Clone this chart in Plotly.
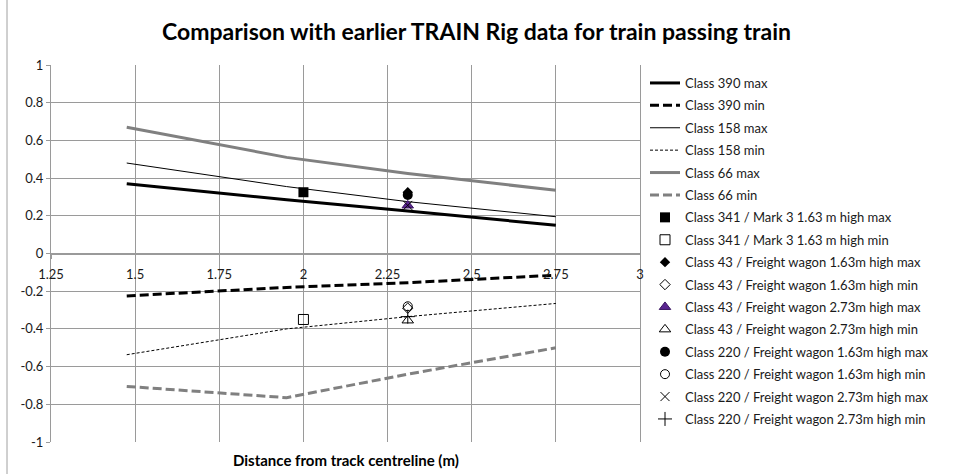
import plotly.graph_objects as go

# ---------------- data ----------------
x_lines = [1.475, 1.95, 2.31, 2.75]
class390_max = [0.37, 0.285, 0.225, 0.15]
class390_min = [-0.225, -0.18, -0.155, -0.115]
class158_max = [0.48, 0.355, 0.275, 0.195]
class158_min = [-0.537, -0.40, -0.335, -0.265]
class66_max = [0.67, 0.51, 0.425, 0.335]
class66_min = [-0.705, -0.765, -0.64, -0.50]

line_names = ["Class 390 max", "Class 390 min", "Class 158 max",
              "Class 158 min", "Class 66 max", "Class 66 min"]
line_values = [class390_max, class390_min, class158_max,
               class158_min, class66_max, class66_min]

point_names = [
    "Class 341 / Mark 3 1.63 m high max",
    "Class 341 / Mark 3 1.63 m high min",
    "Class 43 / Freight wagon 1.63m high max",
    "Class 43 / Freight wagon 1.63m high min",
    "Class 43 / Freight wagon 2.73m high max",
    "Class 43 / Freight wagon 2.73m high min",
    "Class 220 / Freight wagon 1.63m high max",
    "Class 220 / Freight wagon 1.63m high min",
    "Class 220 / Freight wagon 2.73m high max",
    "Class 220 / Freight wagon 2.73m high min",
]
point_x = [2.0, 2.0, 2.31, 2.31, 2.31, 2.31, 2.31, 2.31, 2.31, 2.31]
point_y = [0.325, -0.35, 0.325, -0.29, 0.255, -0.355, 0.31, -0.28, 0.255, -0.335]

x_tick_vals = [1.25, 1.5, 1.75, 2, 2.25, 2.5, 2.75, 3]
x_tick_text = ["1.25", "1.5", "1.75", "2", "2.25", "2.5", "2.75", "3"]
y_tick_vals = [1, 0.8, 0.6, 0.4, 0.2, 0, -0.2, -0.4, -0.6, -0.8, -1]
y_tick_text = ["1", "0.8", "0.6", "0.4", "0.2", "0", "-0.2", "-0.4", "-0.6", "-0.8", "-1"]

# ---------------- styles ----------------
GREY = "#808080"
PURPLE = "#5a2590"
line_styles = [
    dict(color="black", width=3, dash="solid"),
    dict(color="black", width=3, dash="9px,4px"),
    dict(color="black", width=1, dash="solid"),
    dict(color="black", width=1, dash="3px,2px"),
    dict(color=GREY, width=3, dash="solid"),
    dict(color=GREY, width=3, dash="9px,4px"),
]
point_styles = [
    dict(symbol="square", size=10, color="black", line=dict(width=0)),
    dict(symbol="square-open", size=10, color="black", line=dict(width=1)),
    dict(symbol="diamond", size=8, color="black", line=dict(width=0)),
    dict(symbol="diamond-open", size=8, color="black", line=dict(width=1)),
    dict(symbol="triangle-up", size=10, color=PURPLE, line=dict(width=1, color="#3a1460")),
    dict(symbol="triangle-up-open", size=10, color="black", line=dict(width=1)),
    dict(symbol="circle", size=10, color="black", line=dict(width=0)),
    dict(symbol="circle-open", size=9, color="black", line=dict(width=1)),
    dict(symbol="x-thin-open", size=9, color="black", line=dict(width=1)),
    dict(symbol="cross-thin-open", size=10, color="black", line=dict(width=1)),
]

fig = go.Figure()
for i, (name, vals, st) in enumerate(zip(line_names, line_values, line_styles)):
    fig.add_trace(go.Scatter(x=x_lines, y=vals, mode="lines", name=name,
                             line=st, legendgroup=f"g{i}"))
for j, (name, px_, py_, st) in enumerate(zip(point_names, point_x, point_y, point_styles)):
    fig.add_trace(go.Scatter(x=[px_], y=[py_], mode="markers", name=name,
                             marker=st, legendgroup=f"p{j}"))

L, R, T, B = 51, 313, 65, 32
H = 474
plot_w = 953 - L - R
plot_h = H - T - B
zero_pos = (H - B - (T + plot_h / 2)) / plot_h  # y=0 sits at mid-height

GRID = "#9a9a9a"
FONT = "Lato, 'Open Sans', sans-serif"

fig.update_layout(
    width=953, height=474,
    margin=dict(l=L, r=R, t=T, b=B),
    paper_bgcolor="white", plot_bgcolor="white",
    font=dict(family=FONT, size=12.5, color="#1a1a1a"),
    title=dict(text="<b>Comparison with earlier TRAIN Rig data for train passing train</b>",
               x=0.5, xanchor="center", y=1 - 32 / 474, yanchor="middle",
               font=dict(family=FONT, size=23, color="black")),
    showlegend=True,
    legend=dict(x=1.0 + 5 / plot_w, xanchor="left", y=1 - 3 / plot_h, yanchor="top",
                traceorder="grouped", tracegroupgap=2.5, maxheight=474,
                font=dict(family=FONT, size=13, color="#1a1a1a"),
                bgcolor="rgba(0,0,0,0)", itemwidth=30),
    xaxis=dict(range=[1.25, 3], tickvals=x_tick_vals, ticktext=x_tick_text,
               showgrid=True, gridcolor=GRID, gridwidth=1,
               anchor="free", position=zero_pos,
               showline=True, linecolor=GRID, linewidth=1,
               ticks="outside", ticklen=4, tickcolor=GRID,
               zeroline=False, ticklabelstandoff=5,
               tickfont=dict(size=13)),
    yaxis=dict(range=[-1, 1], tickvals=y_tick_vals, ticktext=y_tick_text,
               showgrid=True, gridcolor=GRID, gridwidth=1,
               showline=True, linecolor=GRID, linewidth=1, mirror=True,
               ticks="outside", ticklen=4, tickcolor=GRID,
               zeroline=True, zerolinecolor=GRID, zerolinewidth=1,
               tickfont=dict(size=13)),
    annotations=[dict(text="<b>Distance from track centreline (m)</b>",
                      xref="paper", yref="paper", x=0.5, y=-(460 - (H - B)) / plot_h,
                      xanchor="center", yanchor="middle", showarrow=False,
                      font=dict(family=FONT, size=15, color="black"))],
    shapes=[dict(type="line", xref="paper", yref="paper",
                 x0=(7 - L) / plot_w, x1=(7 - L) / plot_w,
                 y0=-0.3, y1=1.4, line=dict(color="#a0a0a0", width=1))],
)

fig.write_html("out.html", config={"displayModeBar": False},
               post_script="document.body.style.margin='0';document.body.style.overflow='hidden';")
